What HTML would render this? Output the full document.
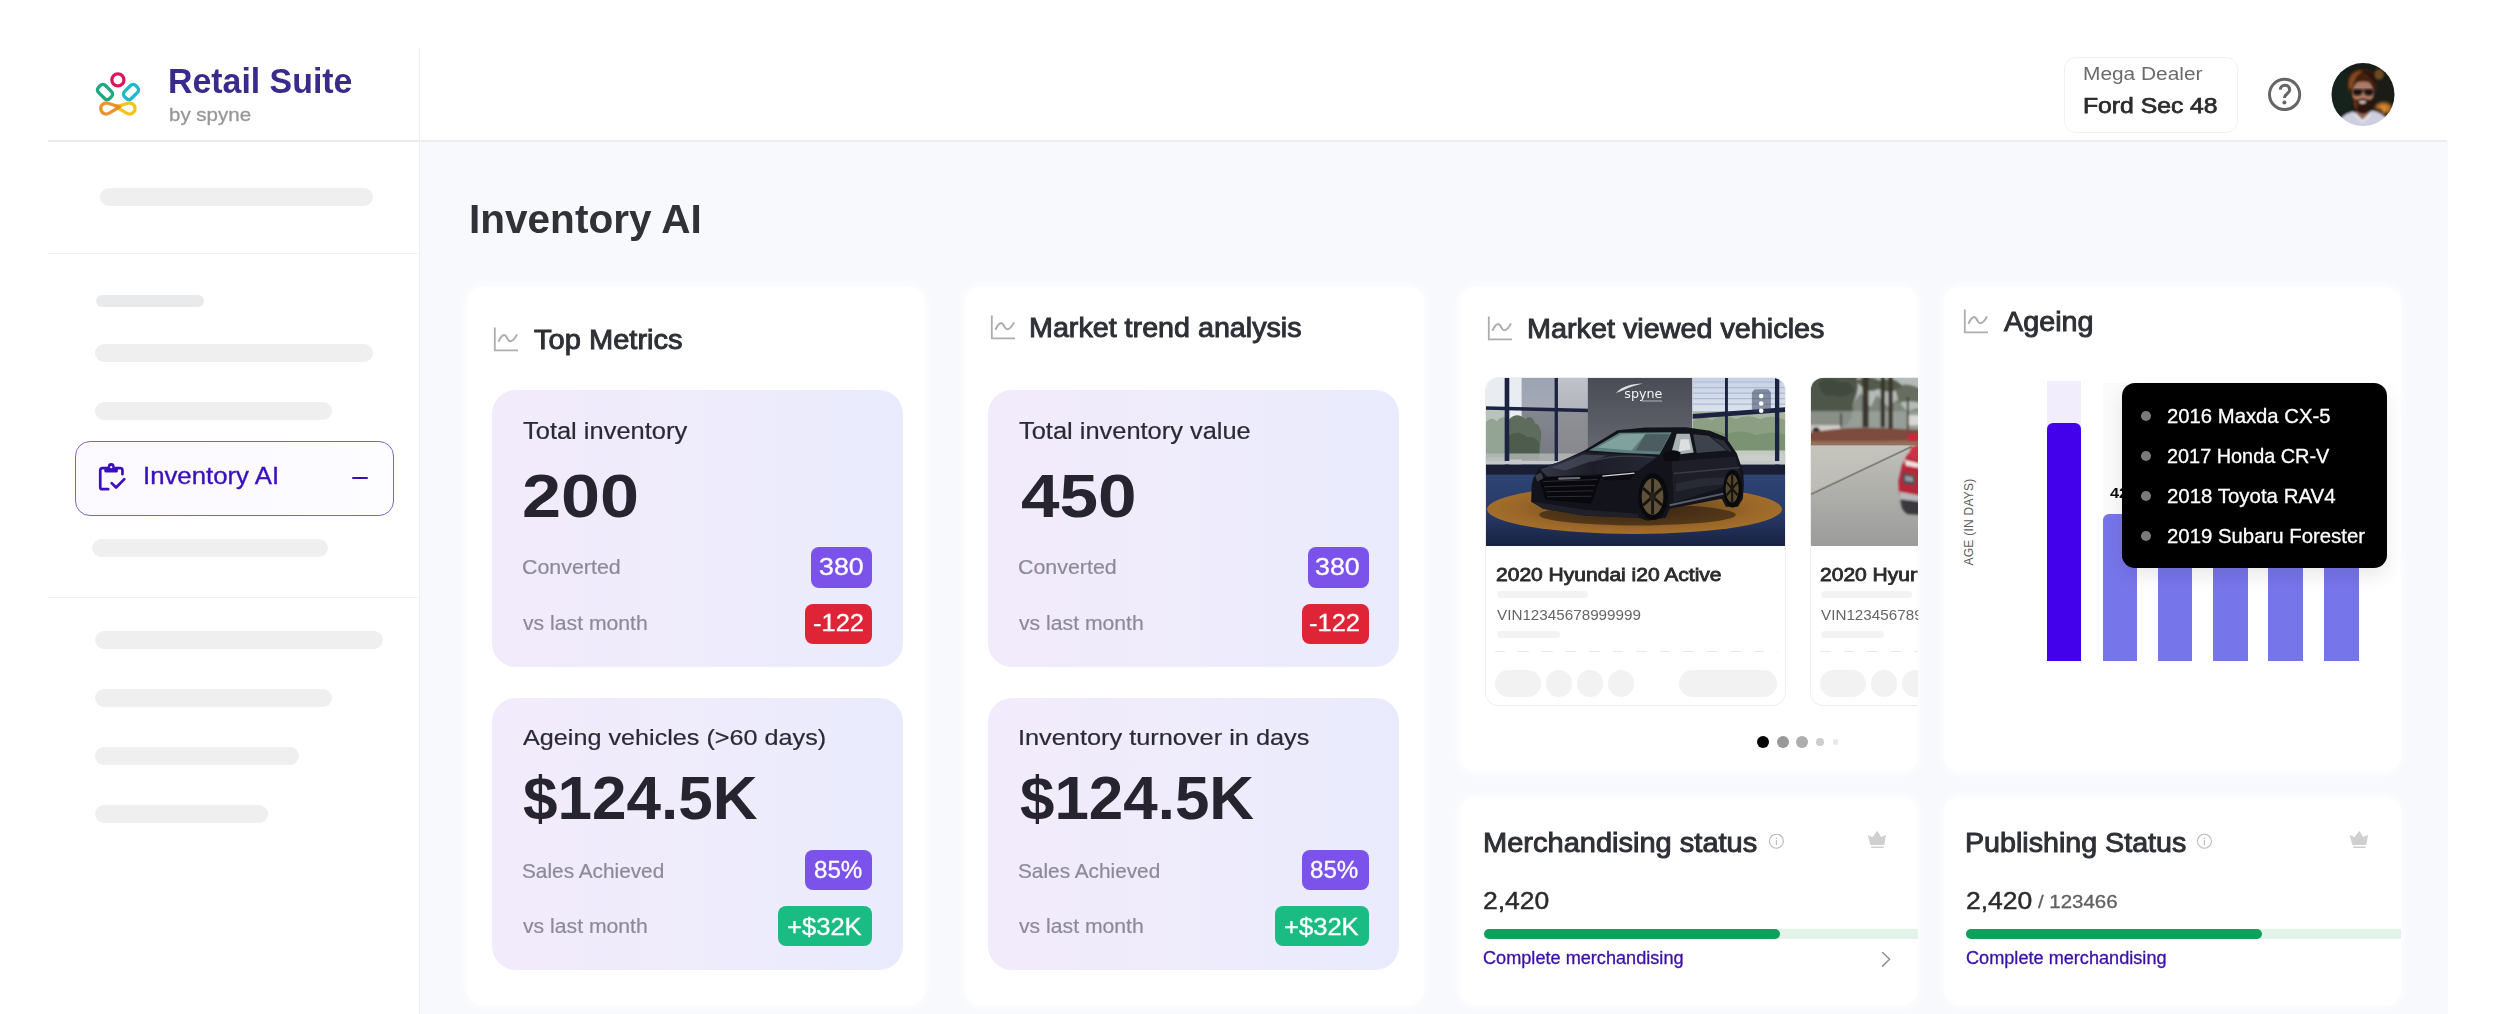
<!DOCTYPE html>
<html lang="en">
<head>
<meta charset="utf-8">
<title>Retail Suite by spyne - Inventory AI</title>
<style>
*{box-sizing:border-box;margin:0;padding:0}
html,body{width:2496px;height:1014px;overflow:hidden;background:#fff;font-family:"Liberation Sans",sans-serif}
#page{position:relative;width:2496px;height:1014px;overflow:hidden;background:#fff}
.a{position:absolute}
.t{position:absolute;white-space:nowrap;line-height:1;transform-origin:0 0}
.sk{position:absolute;background:#efefef;border-radius:10px}
.card{position:absolute;background:#fff;border-radius:16px;box-shadow:0 0 8px 2px rgba(255,255,255,.85)}
.box{position:absolute;border-radius:24px;background:linear-gradient(90deg,#f2ebfc 0%,#efecfc 50%,#e9ebfd 100%)}
.bdg{position:absolute;border-radius:8px;color:#fff;display:flex;align-items:center;justify-content:center;font-size:23.4px;letter-spacing:.7px;line-height:1}
.pu{background:#7b52ea}.rd{background:#e02438}.gn{background:#1abc84}
</style>
</head>
<body>
<div id="page">
  <!-- main background -->
  <div class="a" id="mainbg" style="left:419px;top:141px;width:2029px;height:873px;background:#f8f9fc"></div>
  <!-- frame lines -->
  <div class="a" style="left:48px;top:140px;width:2399px;height:1.5px;background:#ececec"></div>
  <div class="a" style="left:418.6px;top:48px;width:1.4px;height:966px;background:#efeff1"></div>
  <div class="a" style="left:48px;top:253px;width:370px;height:1px;background:#f0f0f0"></div>
  <div class="a" style="left:48px;top:597px;width:370px;height:1px;background:#f0f0f0"></div>

  <!-- logo -->
  <svg class="a" style="left:90px;top:66px" width="56" height="56" viewBox="0 0 56 56" fill="none" stroke-width="3.3" stroke-linejoin="round">
    <path d="M26.2 41.3 L37.9 37.74 A5.5 5.5 0 1 1 36.63 47.69 Z" stroke="#f1c51e" transform="translate(0 -0.5)"/>
    <path d="M29.6 41.3 L17.9 37.74 A5.5 5.5 0 1 0 19.17 47.69 Z" stroke="#eb8a1e" opacity=".93" transform="translate(0 -0.5)"/>
    <rect x="-7.9" y="-4.9" width="15.8" height="9.8" rx="3.6" transform="translate(15 26) rotate(45)" stroke="#20a77c"/>
    <rect x="-7.9" y="-4.9" width="15.8" height="9.8" rx="3.6" transform="translate(41 26) rotate(-45)" stroke="#1fb6cf"/>
    <circle cx="27.9" cy="13.9" r="6.05" stroke="#d81858"/>
  </svg>

  <!-- sidebar skeletons -->
  <div class="sk" style="left:100px;top:188px;width:273px;height:18px"></div>
  <div class="sk" style="left:96px;top:295px;width:108px;height:12px;background:#e8eaec"></div>
  <div class="sk" style="left:95px;top:344px;width:278px;height:18px"></div>
  <div class="sk" style="left:95px;top:402px;width:237px;height:18px"></div>
  <div class="sk" style="left:92px;top:539px;width:236px;height:18px"></div>
  <div class="sk" style="left:95px;top:631px;width:288px;height:18px"></div>
  <div class="sk" style="left:95px;top:689px;width:237px;height:18px"></div>
  <div class="sk" style="left:95px;top:747px;width:204px;height:18px"></div>
  <div class="sk" style="left:95px;top:805px;width:173px;height:18px"></div>

  <!-- active nav item -->
  <div class="a" style="left:75px;top:440.5px;width:318.5px;height:75.5px;border:1.6px solid #7a66c8;border-radius:15px;background:linear-gradient(90deg,#fbf9ff,#fdfcff)"></div>
  <svg class="a" style="left:97px;top:461px" width="30" height="32" viewBox="0 0 30 32" fill="none" stroke="#3a10be" stroke-width="2.7" stroke-linecap="round" stroke-linejoin="round">
    <path d="M8.5 7.15 H5.25 A2 2 0 0 0 3.25 9.15 V26.15 A2 2 0 0 0 5.25 28.15 H11.2"/>
    <path d="M20 7.15 H23.45 A2 2 0 0 1 25.45 9.15 V13.2"/>
    <rect x="7.3" y="5.8" width="13.6" height="5.8" rx="1.6" fill="#3a10be" stroke="none"/>
    <circle cx="14.2" cy="5.4" r="3.4" fill="#3a10be" stroke="none"/>
    <circle cx="14.2" cy="6.2" r="1.15" fill="#fbf9ff" stroke="none"/>
    <path d="M14.7 22.1 L19.1 26.5 L27.3 18.1"/>
  </svg>
  <div class="a" style="left:352px;top:477px;width:16px;height:2.4px;background:#3a10be;border-radius:1px"></div>

  <!-- header right -->
  <div class="a" style="left:2064px;top:56.5px;width:173.5px;height:76px;border:1.5px solid #f1f1f1;border-radius:12px;background:#fff"></div>
  <svg class="a" style="left:2265px;top:75px" width="40" height="40" viewBox="0 0 40 40" fill="none" stroke="#666" stroke-width="3">
    <circle cx="19.6" cy="19.4" r="15.1"/>
    <path d="M15.3 14.6 C15.4 11.8 17.5 10.2 19.9 10.2 C22.6 10.2 24.7 12.1 24.7 14.7 C24.7 18.6 19.5 18.9 19.4 23" stroke-width="3.1"/>
    <circle cx="19.4" cy="27.6" r="2" fill="#666" stroke="none"/>
  </svg>
    <svg class="a" style="left:2331px;top:62.7px" width="64" height="64" viewBox="0 0 64 64">
    <defs><clipPath id="avc"><circle cx="32" cy="31.6" r="31.5"/></clipPath>
      <filter id="avb" x="-10%" y="-10%" width="120%" height="120%"><feGaussianBlur stdDeviation="0.9"/></filter>
      <radialGradient id="glow" cx=".5" cy=".5" r=".5"><stop offset="0" stop-color="#e9983a"/><stop offset=".55" stop-color="#c07426" stop-opacity=".9"/><stop offset="1" stop-color="#3a2a18" stop-opacity="0"/></radialGradient></defs>
    <g clip-path="url(#avc)">
      <g filter="url(#avb)">
      <rect x="-4" y="-4" width="72" height="72" fill="#151a18"/>
      <ellipse cx="10" cy="30" rx="13" ry="22" fill="#18241f"/>
      <ellipse cx="52" cy="26" rx="12" ry="16" fill="#1a1b19"/>
      <ellipse cx="48" cy="11.5" rx="4.5" ry="5" fill="#7d5424" opacity=".85"/>
      <ellipse cx="52.5" cy="45" rx="11.5" ry="8" fill="url(#glow)"/>
      <ellipse cx="47" cy="48" rx="5" ry="3" fill="#2a1c12" opacity=".6"/>
      <path d="M4 66 Q8 52 22 48.5 L31.5 56.5 L41 47.5 Q52 50 58 58 L62 66Z" fill="#cdcede"/>
      <path d="M24 49 L31.5 57 L39 48.5 L40 52 L31.5 60 L23 52Z" fill="#e4e4ee"/>
      <path d="M26 44 L38 44 L38.5 50 L31.5 56.5 L25 50Z" fill="#9a6655"/>
      <ellipse cx="32" cy="30" rx="10.3" ry="13" fill="#ad7a66"/>
      <path d="M22 25 Q21.7 35 24 39 L26 33 Z" fill="#c27048" opacity=".7"/>
      <path d="M17 27 Q14.5 14 22 8.5 Q31 3.5 40 8 Q47 12 45.5 27 Q44.5 31 43 31 Q43.5 23 39 19.5 Q31 17.5 25 20 Q21.5 23 21.5 30 Q18.5 30 17 27Z" fill="#43200f"/>
      <path d="M18 25 Q16.5 15 23 10 Q28 7 32 8 Q26.5 11 24.5 15.5 Q22 19.5 21.3 26Z" fill="#854824"/>
      <path d="M30 8 Q38 6.5 43 12 Q46 17 45 25 Q42 15 36 12Z" fill="#2c150c"/>
      <path d="M22 34 Q21.5 44 26.5 49 Q32 53 37.5 49 Q42.5 44 42 33.5 Q40.5 37.5 37 36.5 Q32 34.5 27 36.5 Q23.5 37.5 22 34Z" fill="#2a160e"/>
      <path d="M22.5 36 Q22.5 43 25.5 47 L27 40Z" fill="#7a3a1c" opacity=".8"/>
      <path d="M27.6 38.2 Q31.5 37.4 35.4 38.2 Q34.2 40.8 31.5 40.8 Q28.8 40.8 27.6 38.2Z" fill="#d9c6be"/>
      </g>
      <g filter="url(#avb)" opacity=".95">
      <ellipse cx="26.5" cy="29.2" rx="4.6" ry="3.3" fill="#17100e"/>
      <ellipse cx="37.8" cy="29.2" rx="4.6" ry="3.3" fill="#17100e"/>
      <rect x="22" y="26.5" width="20.5" height="1.6" fill="#17100e"/>
      </g>
    </g>
  </svg>


  <!-- cards -->
  <div class="card" style="left:467px;top:287px;width:458px;height:718px"></div>
  <div class="card" style="left:965px;top:287px;width:459px;height:718px"></div>
  <div class="card" id="cv" style="left:1460px;top:287px;width:458px;height:485px"></div>
  <div class="card" style="left:1944px;top:287px;width:457px;height:485px"></div>
  <div class="card" style="left:1460px;top:797px;width:458px;height:208px"></div>
  <div class="card" style="left:1944px;top:797px;width:457px;height:208px"></div>

  <!-- chart icons -->
  <svg class="a ci" style="left:493px;top:326.5px" width="26" height="26" viewBox="0 0 26 26" fill="none" stroke="#adadad" stroke-width="1.8" stroke-linejoin="miter"><path d="M1.8 0.6 V23.4 H25"/><path d="M5.4 14.8 C7.3 10.8 9.3 8.1 11.2 8.1 C14 8.1 14.4 14.3 17.1 14.3 C20 14.3 22.4 10.6 24 7.4" stroke-width="2"/></svg>
  <svg class="a ci" style="left:990px;top:315px" width="26" height="26" viewBox="0 0 26 26" fill="none" stroke="#adadad" stroke-width="1.8" stroke-linejoin="miter"><path d="M1.8 0.6 V23.4 H25"/><path d="M5.4 14.8 C7.3 10.8 9.3 8.1 11.2 8.1 C14 8.1 14.4 14.3 17.1 14.3 C20 14.3 22.4 10.6 24 7.4" stroke-width="2"/></svg>
  <svg class="a ci" style="left:1487px;top:315.5px" width="26" height="26" viewBox="0 0 26 26" fill="none" stroke="#adadad" stroke-width="1.8" stroke-linejoin="miter"><path d="M1.8 0.6 V23.4 H25"/><path d="M5.4 14.8 C7.3 10.8 9.3 8.1 11.2 8.1 C14 8.1 14.4 14.3 17.1 14.3 C20 14.3 22.4 10.6 24 7.4" stroke-width="2"/></svg>
  <svg class="a ci" style="left:1962.5px;top:309px" width="26" height="26" viewBox="0 0 26 26" fill="none" stroke="#adadad" stroke-width="1.8" stroke-linejoin="miter"><path d="M1.8 0.6 V23.4 H25"/><path d="M5.4 14.8 C7.3 10.8 9.3 8.1 11.2 8.1 C14 8.1 14.4 14.3 17.1 14.3 C20 14.3 22.4 10.6 24 7.4" stroke-width="2"/></svg>

  <!-- metric boxes -->
  <div class="box" style="left:492px;top:390px;width:410.5px;height:277px"></div>
  <div class="box" style="left:492px;top:698px;width:410.5px;height:272px"></div>
  <div class="box" style="left:988px;top:390px;width:411px;height:277px"></div>
  <div class="box" style="left:988px;top:698px;width:411px;height:272px"></div>

  <!-- badges -->
  <div class="bdg pu" style="left:811px;top:547px;width:60.5px;height:40.5px"></div>
  <div class="bdg rd" style="left:805px;top:603.5px;width:66.5px;height:40.5px"></div>
  <div class="bdg pu" style="left:805px;top:850px;width:66.5px;height:40px"></div>
  <div class="bdg gn" style="left:778px;top:906px;width:93.5px;height:40px"></div>
  <div class="bdg pu" style="left:1307.5px;top:547px;width:61px;height:40.5px"></div>
  <div class="bdg rd" style="left:1301.5px;top:603.5px;width:67px;height:40.5px"></div>
  <div class="bdg pu" style="left:1301.5px;top:850px;width:67px;height:40px"></div>
  <div class="bdg gn" style="left:1274.5px;top:906px;width:94px;height:40px"></div>

    <!-- market viewed vehicles -->
  <div class="a" style="left:1460px;top:287px;width:458px;height:485px;overflow:hidden;border-radius:16px">
    <!-- vehicle card 1 -->
    <div class="a" style="left:25px;top:90px;width:300.5px;height:328.5px;border:1.3px solid #ededed;border-radius:13px;overflow:hidden;background:#fff">
      <svg class="a" style="left:-1px;top:-1px" width="301" height="169" viewBox="0 0 300 168" preserveAspectRatio="none">
        <defs>
          <linearGradient id="wall" x1="0" y1="0" x2="0" y2="1"><stop offset="0" stop-color="#494c54"/><stop offset=".5" stop-color="#5a5d65"/><stop offset="1" stop-color="#6e7179"/></linearGradient>
          <linearGradient id="flr" x1="0" y1="0" x2="0" y2="1"><stop offset="0" stop-color="#2e4474"/><stop offset=".55" stop-color="#283a68"/><stop offset="1" stop-color="#182242"/></linearGradient>
          <radialGradient id="tt" cx=".5" cy=".48" r=".5"><stop offset="0" stop-color="#55391c"/><stop offset=".5" stop-color="#7f5524"/><stop offset=".8" stop-color="#9a6729"/><stop offset="1" stop-color="#a36e2b"/></radialGradient>
          <linearGradient id="bld" x1="0" y1="0" x2="0" y2="1"><stop offset="0" stop-color="#9aa2b3"/><stop offset=".35" stop-color="#a4a9b4"/><stop offset=".4" stop-color="#83878f"/><stop offset="1" stop-color="#74777f"/></linearGradient>
          <linearGradient id="bld2" x1="0" y1="0" x2="0" y2="1"><stop offset="0" stop-color="#c2c5cc"/><stop offset=".36" stop-color="#b2b5bc"/><stop offset=".4" stop-color="#8e9096"/><stop offset="1" stop-color="#85878d"/></linearGradient>
          <linearGradient id="rb" x1="0" y1="0" x2="0" y2="1"><stop offset="0" stop-color="#c5d0e4"/><stop offset="1" stop-color="#dde4ef"/></linearGradient>
          <linearGradient id="hood" x1="0" y1="0" x2="1" y2="0"><stop offset="0" stop-color="#343746"/><stop offset=".45" stop-color="#1c1d28"/><stop offset="1" stop-color="#262835"/></linearGradient>
          <filter id="sft" x="-5%" y="-5%" width="110%" height="110%"><feGaussianBlur stdDeviation="0.7"/></filter>
        </defs>
        <rect width="300" height="168" fill="#e9ecf1"/>
        <!-- left window -->
        <g filter="url(#sft)">
        <rect x="0" y="30" width="24" height="56" fill="#b9c2bd"/>
        <rect x="36.5" y="-2" width="35" height="90" fill="url(#bld)"/>
        <rect x="72" y="-2" width="32" height="90" fill="url(#bld2)"/>
        <path d="M0 46 Q6 38 12 44 Q18 36 24 44 L24 80 L0 80Z" fill="#8fa08f" opacity=".9"/>
        <path d="M24 42 Q32 34 40 42 Q46 36 50 46 Q56 48 56 58 L54 80 L24 80Z" fill="#5d6c5c"/>
        <path d="M24 58 Q34 52 42 60 Q50 58 54 66 L54 82 L24 82Z" fill="#4d5c4e"/>
        <rect x="0" y="76" width="103" height="9" fill="#b9bdb9" opacity=".75"/>
        <!-- right window -->
        <rect x="207" y="-2" width="95" height="40" fill="url(#rb)"/>
        <g stroke="#a9b7d0" stroke-width="1.1" opacity=".9"><path d="M207 5H300M207 10.5H300M207 16H300M207 21.5H300M207 27H300"/></g>
        <rect x="207" y="34" width="95" height="52" fill="#a9b5a3"/>
        <path d="M207 44 Q216 37 226 43 Q238 35 250 42 Q262 36 274 42 Q286 36 302 44 L302 76 L207 76Z" fill="#8c9f82"/>
        <path d="M212 56 Q226 50 240 57 Q256 51 270 58 Q284 53 302 58 L302 78 L212 78Z" fill="#77906f" opacity=".8"/>
        <rect x="207" y="73" width="95" height="12" fill="#cfd3cf" opacity=".85"/>
        </g>
        <!-- frames -->
        <g fill="#1b2340">
          <rect x="19.6" y="0" width="4.6" height="88"/><rect x="69.4" y="0" width="3.3" height="88"/>
          <path d="M0 29 L103 31.6 L103 35 L0 32.5Z"/>
          <rect x="239.2" y="0" width="2.9" height="88"/><rect x="289" y="0" width="4.3" height="88"/>
          <path d="M207 36.8 L300 30 L300 34.6 L207 41.5Z"/>
        </g>
        <rect x="0" y="83.5" width="300" height="3.6" fill="#c4c8cc"/>
        <rect x="0" y="87" width="300" height="11" fill="#191e33"/>
        <!-- wall -->
        <rect x="102.5" y="0" width="104" height="93" fill="url(#wall)"/>
        <!-- floor -->
        <rect x="0" y="97" width="300" height="71" fill="url(#flr)"/>
        <ellipse cx="149" cy="131.5" rx="147" ry="24.5" fill="url(#tt)"/>
        <ellipse cx="152" cy="137" rx="98" ry="10.5" fill="#20160e" opacity=".55" filter="url(#sft)"/>
        <!-- car -->
        <path d="M46 124 L46.5 108 L48 101 L54 91 L75 84 L99 73 L132 53 L160 50.3 L200 50 L224 53.5 L240 60 L251 76 L257.5 95 L258 108 L257 121 L252 129 L240 129 L236 121 L184 131 L180 140 L162 143 L153 140 L100 138 L58 131 Z" fill="#13141b"/>
        <path d="M103.5 73 L134 55.5 L186 55 L174 77 Q140 76 103.5 73Z" fill="#5f7f7e"/>
        <path d="M112 70 L136 57 L160 56.5 L146 73Z" fill="#86a8a4" opacity=".85"/>
        <path d="M160 57 L184 57 L175 74 L150 73Z" fill="#4a5a5e" opacity=".9"/>
        <path d="M191 56.5 L204 56.5 L208 75 L185 78 Z" fill="#a9b2b3"/>
        <path d="M195 62 L203 62 L205 72 L193 74Z" fill="#e8eaea" opacity=".8"/>
        <path d="M207.5 57 L223 58.5 L241 73 L211 75.5Z" fill="#3d424c"/>
        <path d="M226 60 L238 63 L246 74 L243 74Z" fill="#2b2f38"/>
        <path d="M55 92 L99 74.5 L172 79 L150 95 L62 99Z" fill="url(#hood)"/>
        <path d="M66 90 L98 77 L122 78 L80 93Z" fill="#4a4d5e" opacity=".7"/>
        <path d="M106 84 Q130 76 168 80" stroke="#3c3f4e" stroke-width="1.2" fill="none"/>
        <path d="M54 100 L116 98 L106 126 L60 122Z" fill="#09090d"/>
        <path d="M58 104 L112 102 M59 109 L110 107.5 M61 114 L108 113 M62 119 L106 118.5" stroke="#2c2d35" stroke-width="1"/>
        <path d="M74 101 L94 100.4" stroke="#6a6c76" stroke-width="2.2" stroke-linecap="round"/>
        <path d="M50 98 L56 95 L58 101 L52 104Z" fill="#3a3c48"/>
        <path d="M113 97.5 L152 93.5 L145 102 L120 103Z" fill="#0b0b0f"/>
        <path d="M117 98.5 L149 95.5" stroke="#cfd6de" stroke-width="1.3"/>
        <path d="M48 124 L100 132 L153 136 L153 140 L100 138 L58 131Z" fill="#1f2029"/>
        <path d="M186 84 L250 79 L256 104 L188 125Z" fill="#1d1e27"/>
        <path d="M188 96 L254 90" stroke="#393b48" stroke-width="1.4"/>
        <path d="M190 106 Q220 98 254 100 L255 106 Q222 106 190 114Z" fill="#2c2e3a" opacity=".8"/>
        <path d="M184 127.5 L238 116" stroke="#5a5d6b" stroke-width="1.8"/>
        <ellipse cx="167.5" cy="119" rx="14.8" ry="23.2" fill="#0a0a0d"/>
        <ellipse cx="167" cy="119" rx="10.8" ry="18" fill="#5f5139"/>
        <path d="M167 101.5 L167 136.5 M157.5 110.5 L176.5 127.5 M157.5 127.5 L176.5 110.5" stroke="#17140f" stroke-width="2.8"/>
        <ellipse cx="167" cy="119" rx="3.2" ry="5" fill="#262017"/>
        <ellipse cx="246.8" cy="111" rx="9.3" ry="18.8" fill="#0a0a0d"/>
        <ellipse cx="246.3" cy="111" rx="6.5" ry="14" fill="#55482f"/>
        <path d="M246.3 97.5 L246.3 124.5 M240.8 104.5 L251.8 117.5 M240.8 117.5 L251.8 104.5" stroke="#17140f" stroke-width="2.1"/>
        <path d="M177 77 Q186 70 195 75 L193 83 L179 84Z" fill="#0b0b10"/>
        <!-- watermark -->
        <path d="M130.5 16 Q138 7 157.5 6.5 Q145 9.5 139.5 12.5 Q134.5 14.5 130.5 16Z" fill="#eeeef2" opacity=".9"/>
        <text x="138.8" y="21.3" font-family="'DejaVu Sans','Liberation Sans',sans-serif" font-size="11.5" fill="#f4f4f6" textLength="38" lengthAdjust="spacingAndGlyphs">spyne</text>
        <rect x="156" y="23.4" width="20.5" height=".9" fill="#d8d8dc" opacity=".8"/>
        <!-- menu -->
        <rect x="266" y="12.3" width="19" height="23" rx="4.5" fill="#323c58" opacity=".5"/>
        <circle cx="275.3" cy="19" r="2.3" fill="#fff"/><circle cx="275.3" cy="26.3" r="2.3" fill="#fff"/><circle cx="275.3" cy="33.5" r="2.3" fill="#fff"/>
      </svg>
      <div class="sk" style="left:10.5px;top:213px;width:91px;height:7px;background:#f3f3f3"></div>
      <div class="sk" style="left:10.5px;top:253px;width:63px;height:6.5px;background:#f3f3f3"></div>
      <div class="a" style="left:9px;top:272.5px;width:283px;height:1.5px;background:repeating-linear-gradient(90deg,#e9e9e9 0 10.5px,transparent 10.5px 23.5px)"></div>
      <div class="sk" style="left:9px;top:292px;width:46px;height:26.5px;border-radius:14px;background:#f2f2f2"></div>
      <div class="sk" style="left:60px;top:292px;width:26px;height:26.5px;border-radius:14px;background:#f2f2f2"></div>
      <div class="sk" style="left:91px;top:292px;width:26px;height:26.5px;border-radius:14px;background:#f2f2f2"></div>
      <div class="sk" style="left:122px;top:292px;width:26px;height:26.5px;border-radius:14px;background:#f2f2f2"></div>
      <div class="sk" style="left:192.5px;top:292px;width:98px;height:26.5px;border-radius:14px;background:#f2f2f2"></div>
    </div>
    <!-- vehicle card 2 (clipped) -->
    <div class="a" style="left:349.5px;top:90px;width:300.5px;height:328.5px;border:1.3px solid #ededed;border-radius:13px;overflow:hidden;background:#fff">
      <svg class="a" style="left:-1px;top:-1px" width="109" height="169" viewBox="0 0 108 168" preserveAspectRatio="none">
        <defs>
          <linearGradient id="pv" x1="0" y1="0" x2="0" y2="1"><stop offset="0" stop-color="#c2c1ba"/><stop offset=".35" stop-color="#b3b3ae"/><stop offset="1" stop-color="#9b9c9b"/></linearGradient>
          <filter id="sf2" x="-5%" y="-5%" width="110%" height="110%"><feGaussianBlur stdDeviation="0.8"/></filter>
        </defs>
        <rect width="108" height="168" fill="#8a9088"/>
        <g filter="url(#sf2)">
        <rect x="-2" y="-2" width="112" height="54" fill="#7d857c"/>
        <path d="M40 -2 L110 -2 L110 30 L96 34 L86 22 L78 30 L66 18 L60 30 L50 16 L44 24Z" fill="#c3c8c7" opacity=".8"/>
        <path d="M-2 -2 L46 -2 Q50 14 42 26 Q44 40 36 48 L-2 50Z" fill="#4d5648"/>
        <path d="M8 6 Q18 -2 30 6 Q40 2 44 14 Q34 22 22 18 Q12 22 8 6Z" fill="#3f483c" opacity=".9"/>
        <path d="M46 4 Q56 -4 70 4 Q84 -2 92 10 Q80 18 68 12 Q56 18 46 4Z" fill="#4a5244" opacity=".9"/>
        <path d="M84 10 Q96 4 110 12 L110 26 Q98 22 88 26Z" fill="#59604f" opacity=".85"/>
        <rect x="-2" y="34" width="112" height="18" fill="#a3a8a2" opacity=".7"/>
        <rect x="96" y="38" width="14" height="10" fill="#dcdedc" opacity=".9"/>
        <g fill="#3a342c"><rect x="52" y="-2" width="6" height="52"/><rect x="70" y="-2" width="4.3" height="52"/><rect x="77.7" y="-2" width="4.3" height="54"/><rect x="96" y="20" width="1.8" height="34"/><rect x="30" y="36" width="1.6" height="14"/></g>
        <rect x="-2" y="48" width="32" height="6" fill="#d2cec9"/>
        <path d="M2 54 Q3 49 7 50 Q10 51 10 55Z" fill="#2c2420"/>
        <path d="M-2 56 Q20 51 50 50.5 Q80 50 110 53 L110 70 L-2 70Z" fill="#7b4b3d"/>
        <path d="M-2 63.5 Q50 64.5 96 63 L110 62 L110 69 L-2 69Z" fill="#98735f" opacity=".9"/>
        </g>
        <rect x="0" y="68" width="108" height="100" fill="url(#pv)"/>
        <path d="M0 68 L100 68 L0 115Z" fill="#c6c4bd" opacity=".55"/>
        <path d="M100 68.5 L0 116.3 L0 118 L102 69.5Z" fill="#6f6e69" opacity=".8"/>
        <g filter="url(#sf2)">
        <path d="M96.5 57.5 Q101 55.5 107.5 56.5 L108.5 63 Q102 64.5 97 63Z" fill="#d0283c"/>
        <path d="M110 66 L103 70 L96 78 L91 88 L87.5 104 L88.5 118 L110 122Z" fill="#b8283a"/>
        <path d="M100 70 L110 66 L110 84 L98 80Z" fill="#cf3346"/>
        <path d="M94 82.5 L108.5 86 L108.5 90.5 L95 88Z" fill="#f1e3df"/>
        <path d="M91.5 95 L104 97.5 L104 107.5 L92 106Z" fill="#4b4a50"/>
        <path d="M94 98 L102 99.5 L102 104.5 L94.5 103.5Z" fill="#9a989e"/>
        <path d="M88.5 114 L110 118 L110 124 L89.5 121.5Z" fill="#b9b7bb"/>
        <path d="M89.5 121.5 L110 124 L110 137 L97 136.5 Q92 134 90.5 128Z" fill="#3a383c"/>
        </g>
      </svg>
      <div class="sk" style="left:10.5px;top:213px;width:91px;height:7px;background:#f3f3f3"></div>
      <div class="sk" style="left:10.5px;top:253px;width:63px;height:6.5px;background:#f3f3f3"></div>
      <div class="a" style="left:9px;top:272.5px;width:283px;height:1.5px;background:repeating-linear-gradient(90deg,#e9e9e9 0 10.5px,transparent 10.5px 23.5px)"></div>
      <div class="sk" style="left:9px;top:292px;width:46px;height:26.5px;border-radius:14px;background:#f2f2f2"></div>
      <div class="sk" style="left:60px;top:292px;width:26px;height:26.5px;border-radius:14px;background:#f2f2f2"></div>
      <div class="sk" style="left:91px;top:292px;width:26px;height:26.5px;border-radius:14px;background:#f2f2f2"></div>
    </div>
    <!-- pager dots -->
    <div class="a" style="left:296.9px;top:448.9px;width:12px;height:12px;border-radius:50%;background:#000"></div>
    <div class="a" style="left:316.5px;top:448.9px;width:12px;height:12px;border-radius:50%;background:#999"></div>
    <div class="a" style="left:335.9px;top:448.9px;width:12px;height:12px;border-radius:50%;background:#adadad"></div>
    <div class="a" style="left:355.6px;top:450.6px;width:8.6px;height:8.6px;border-radius:50%;background:#cdcdcd"></div>
    <div class="a" style="left:372.5px;top:452.1px;width:5.6px;height:5.6px;border-radius:50%;background:#e8e8e8"></div>
  </div>

    <!-- ageing chart -->
  <div class="a" style="left:2046.8px;top:380.5px;width:34.5px;height:280.5px;background:#f2edfd"></div>
  <div class="a" style="left:2046.8px;top:423.4px;width:34.5px;height:237.6px;background:#4200eb;border-radius:6px 6px 0 0"></div>
  <div class="a" style="left:2102.6px;top:383px;width:34.4px;height:278px;background:#fbfbfb"></div>
  <div class="a bar" style="left:2102.6px;top:514px;width:34.4px;height:146.8px;background:#7775ea;border-radius:6px 6px 0 0"></div>
  <div class="a bar" style="left:2157.8px;top:500px;width:34.4px;height:161px;background:#7775ea;border-radius:6px 6px 0 0"></div>
  <div class="a bar" style="left:2213.3px;top:500px;width:34.4px;height:160.6px;background:#7775ea;border-radius:6px 6px 0 0"></div>
  <div class="a bar" style="left:2268.4px;top:500px;width:34.4px;height:161px;background:#7775ea;border-radius:6px 6px 0 0"></div>
  <div class="a bar" style="left:2324.2px;top:500px;width:34.6px;height:161.2px;background:#7775ea;border-radius:6px 6px 0 0"></div>
  <div class="a" style="left:1919px;top:514px;width:100px;height:16px;transform:rotate(-90deg);transform-origin:50% 50%;text-align:center;font-size:12px;line-height:16px;color:#5c5c5c;letter-spacing:.25px;white-space:nowrap">AGE (IN DAYS)</div>
  <!-- tooltip -->
  <div class="a" style="left:2122px;top:383.3px;width:265.3px;height:185.2px;background:#000;border-radius:13px;box-shadow:0 8px 20px rgba(0,0,0,.09);z-index:5"></div>
  <div class="a" style="left:2141px;top:411.3px;width:10px;height:10px;border-radius:50%;background:#7a7a7a;z-index:6"></div>
  <div class="a" style="left:2141px;top:451.1px;width:10px;height:10px;border-radius:50%;background:#7a7a7a;z-index:6"></div>
  <div class="a" style="left:2141px;top:490.9px;width:10px;height:10px;border-radius:50%;background:#7a7a7a;z-index:6"></div>
  <div class="a" style="left:2141px;top:530.7px;width:10px;height:10px;border-radius:50%;background:#7a7a7a;z-index:6"></div>

    <!-- merchandising / publishing -->
  <div class="a" style="left:1460px;top:797px;width:458px;height:208px;overflow:hidden;border-radius:16px">
    <div class="a" style="left:23.6px;top:132px;width:440px;height:10px;border-radius:5px;background:#e2f3ea"></div>
    <div class="a" style="left:23.6px;top:132px;width:296.2px;height:10px;border-radius:5px;background:#10a05c"></div>
  </div>
  <div class="a" style="left:1944px;top:797px;width:457px;height:208px;overflow:hidden;border-radius:16px">
    <div class="a" style="left:21.9px;top:132px;width:440px;height:10px;border-radius:5px;background:#e2f3ea"></div>
    <div class="a" style="left:21.9px;top:132px;width:296.2px;height:10px;border-radius:5px;background:#10a05c"></div>
  </div>
  <svg class="a" style="left:1767.8px;top:833.3px" width="17" height="17" viewBox="0 0 17 17" fill="none" stroke="#b9b9b9" stroke-width="1.1" stroke-linecap="round"><circle cx="8.4" cy="8.2" r="7"/><path d="M8.4 7.6V11.6"/><circle cx="8.4" cy="5.2" r=".8" fill="#b9b9b9" stroke="none"/></svg>
  <svg class="a" style="left:2196.1px;top:833.3px" width="17" height="17" viewBox="0 0 17 17" fill="none" stroke="#b9b9b9" stroke-width="1.1" stroke-linecap="round"><circle cx="8.4" cy="8.2" r="7"/><path d="M8.4 7.6V11.6"/><circle cx="8.4" cy="5.2" r=".8" fill="#b9b9b9" stroke="none"/></svg>
  <svg class="a" style="left:1866.5px;top:829.5px" width="21" height="19" viewBox="0 0 21 19" fill="#cfcfcf"><path d="M3.75 14.5 L1.5 5.6 L5.4 7.9 L10.26 1.6 L14 7.8 L18.4 5.6 L16.8 14.5Z" stroke="#cfcfcf" stroke-width="1" stroke-linejoin="round"/><rect x="4.1" y="16.4" width="12.7" height="1.5" rx=".5"/></svg>
  <svg class="a" style="left:2348.8px;top:829.5px" width="21" height="19" viewBox="0 0 21 19" fill="#cfcfcf"><path d="M3.75 14.5 L1.5 5.6 L5.4 7.9 L10.26 1.6 L14 7.8 L18.4 5.6 L16.8 14.5Z" stroke="#cfcfcf" stroke-width="1" stroke-linejoin="round"/><rect x="4.1" y="16.4" width="12.7" height="1.5" rx=".5"/></svg>
  <svg class="a" style="left:1879px;top:950px" width="14" height="19" viewBox="0 0 14 19" fill="none" stroke="#8f8f8f" stroke-width="1.5" stroke-linecap="round" stroke-linejoin="round"><path d="M3.5 2.5 L10.6 9.3 L3.5 16.1"/></svg>


<span class="t" id="t_rs" style="left:167.5px;top:63.9px;font-size:34.45px;font-weight:700;color:#3a2a8c;transform:scaleX(0.9832);">Retail Suite</span>
<span class="t" id="t_by" style="left:169.4px;top:106.4px;font-size:18.31px;font-weight:400;color:#979797;transform:scaleX(1.1208);-webkit-text-stroke:0.3px #979797;">by spyne</span>
<span class="t" id="t_md" style="left:2082.7px;top:64.7px;font-size:18.90px;font-weight:400;color:#6b6b6b;transform:scaleX(1.1049);">Mega Dealer</span>
<span class="t" id="t_fs" style="left:2082.9px;top:95.1px;font-size:22.38px;font-weight:400;color:#2b2b2b;transform:scaleX(1.1042);-webkit-text-stroke:0.75px #2b2b2b;">Ford Sec 48</span>
<span class="t" id="t_sb" style="left:143.2px;top:463.8px;font-size:24.42px;font-weight:400;color:#3a10be;transform:scaleX(1.0555);-webkit-text-stroke:0.35px #3a10be;">Inventory AI</span>
<span class="t" id="t_h1" style="left:468.5px;top:198.6px;font-size:40.41px;font-weight:700;color:#303238;transform:scaleX(1.0033);">Inventory AI</span>
<span class="t" id="t_c1" style="left:534.0px;top:325.8px;font-size:27.91px;font-weight:400;color:#2e3036;transform:scaleX(1.0414);-webkit-text-stroke:0.95px #2e3036;">Top Metrics</span>
<span class="t" id="t_c2" style="left:1029.2px;top:314.3px;font-size:27.62px;font-weight:400;color:#2e3036;transform:scaleX(1.0388);-webkit-text-stroke:0.95px #2e3036;">Market trend analysis</span>
<span class="t" id="t_c3" style="left:1527.1px;top:314.9px;font-size:27.47px;font-weight:400;color:#2e3036;transform:scaleX(1.0474);-webkit-text-stroke:0.95px #2e3036;">Market viewed vehicles</span>
<span class="t" id="t_c4" style="left:2004.4px;top:308.3px;font-size:27.62px;font-weight:400;color:#2e3036;transform:scaleX(1.0413);-webkit-text-stroke:0.95px #2e3036;">Ageing</span>
<span class="t" id="t_xa1" style="left:523.0px;top:419.8px;font-size:23.11px;font-weight:400;color:#2a2a35;transform:scaleX(1.1015);-webkit-text-stroke:0.2px currentColor;">Total inventory</span>
<span class="t" id="t_xa2" style="left:522.4px;top:465.7px;font-size:60.62px;font-weight:700;color:#26242e;transform:scaleX(1.1578);">200</span>
<span class="t" id="t_xa3" style="left:522.1px;top:557.9px;font-size:19.77px;font-weight:400;color:#8c8a99;transform:scaleX(1.0823);-webkit-text-stroke:0.2px currentColor;">Converted</span>
<span class="t" id="t_xa4" style="left:523.0px;top:614.2px;font-size:19.77px;font-weight:400;color:#8c8a99;transform:scaleX(1.0714);-webkit-text-stroke:0.2px currentColor;">vs last month</span>
<span class="t" id="t_xb1" style="left:1019.3px;top:419.8px;font-size:23.11px;font-weight:400;color:#2a2a35;transform:scaleX(1.0999);-webkit-text-stroke:0.2px currentColor;">Total inventory value</span>
<span class="t" id="t_xb2" style="left:1020.7px;top:465.5px;font-size:60.62px;font-weight:700;color:#26242e;transform:scaleX(1.1436);">450</span>
<span class="t" id="t_xb3" style="left:1018.4px;top:557.9px;font-size:19.77px;font-weight:400;color:#8c8a99;transform:scaleX(1.0823);-webkit-text-stroke:0.2px currentColor;">Converted</span>
<span class="t" id="t_xb4" style="left:1019.3px;top:614.2px;font-size:19.77px;font-weight:400;color:#8c8a99;transform:scaleX(1.0714);-webkit-text-stroke:0.2px currentColor;">vs last month</span>
<span class="t" id="t_xc1" style="left:523.0px;top:725.6px;font-size:22.97px;font-weight:400;color:#2a2a35;transform:scaleX(1.0967);-webkit-text-stroke:0.2px currentColor;">Ageing vehicles (&gt;60 days)</span>
<span class="t" id="t_xc2" style="left:522.9px;top:768.2px;font-size:60.34px;font-weight:700;color:#26242e;transform:scaleX(1.0280);">$124.5K</span>
<span class="t" id="t_xc3" style="left:521.8px;top:860.6px;font-size:20.20px;font-weight:400;color:#8c8a99;transform:scaleX(1.0304);-webkit-text-stroke:0.2px currentColor;">Sales Achieved</span>
<span class="t" id="t_xc4" style="left:523.0px;top:917.1px;font-size:19.77px;font-weight:400;color:#8c8a99;transform:scaleX(1.0714);-webkit-text-stroke:0.2px currentColor;">vs last month</span>
<span class="t" id="t_xd1" style="left:1018.2px;top:725.7px;font-size:22.97px;font-weight:400;color:#2a2a35;transform:scaleX(1.1027);-webkit-text-stroke:0.2px currentColor;">Inventory turnover in days</span>
<span class="t" id="t_xd2" style="left:1020.1px;top:768.0px;font-size:60.34px;font-weight:700;color:#26242e;transform:scaleX(1.0262);">$124.5K</span>
<span class="t" id="t_xd3" style="left:1018.1px;top:860.6px;font-size:20.20px;font-weight:400;color:#8c8a99;transform:scaleX(1.0304);-webkit-text-stroke:0.2px currentColor;">Sales Achieved</span>
<span class="t" id="t_xd4" style="left:1019.3px;top:917.1px;font-size:19.77px;font-weight:400;color:#8c8a99;transform:scaleX(1.0714);-webkit-text-stroke:0.2px currentColor;">vs last month</span>
<span class="t" id="t_bl1" style="left:818.8px;top:554.8px;font-size:23.75px;font-weight:400;color:#fff;transform:scaleX(1.1272);z-index:3;-webkit-text-stroke:0.3px #fff;">380</span>
<span class="t" id="t_bl2" style="left:812.7px;top:611.0px;font-size:24.03px;font-weight:400;color:#fff;transform:scaleX(1.0612);z-index:3;-webkit-text-stroke:0.3px #fff;">-122</span>
<span class="t" id="t_bl3" style="left:813.8px;top:858.5px;font-size:23.61px;font-weight:400;color:#fff;transform:scaleX(1.0225);z-index:3;-webkit-text-stroke:0.3px #fff;">85%</span>
<span class="t" id="t_bl4" style="left:787.3px;top:914.6px;font-size:24.03px;font-weight:400;color:#fff;transform:scaleX(1.0651);z-index:3;-webkit-text-stroke:0.3px #fff;">+$32K</span>
<span class="t" id="t_br1" style="left:1315.4px;top:554.8px;font-size:23.75px;font-weight:400;color:#fff;transform:scaleX(1.1272);z-index:3;-webkit-text-stroke:0.3px #fff;">380</span>
<span class="t" id="t_br2" style="left:1309.3px;top:611.0px;font-size:24.03px;font-weight:400;color:#fff;transform:scaleX(1.0612);z-index:3;-webkit-text-stroke:0.3px #fff;">-122</span>
<span class="t" id="t_br3" style="left:1310.4px;top:858.5px;font-size:23.61px;font-weight:400;color:#fff;transform:scaleX(1.0225);z-index:3;-webkit-text-stroke:0.3px #fff;">85%</span>
<span class="t" id="t_br4" style="left:1283.9px;top:914.6px;font-size:24.03px;font-weight:400;color:#fff;transform:scaleX(1.0651);z-index:3;-webkit-text-stroke:0.3px #fff;">+$32K</span>
<span class="t" id="t_v1" style="left:1496.2px;top:565.9px;font-size:18.75px;font-weight:400;color:#2b2b2b;transform:scaleX(1.1212);-webkit-text-stroke:0.8px #2b2b2b;">2020 Hyundai i20 Active</span>
<span class="t" id="t_v2" style="left:1496.5px;top:608.0px;font-size:14.10px;font-weight:400;color:#666;transform:scaleX(1.0805);">VIN12345678999999</span>
<span class="t" id="t_tt0" style="left:2167.1px;top:407.3px;font-size:19.62px;font-weight:400;color:#fff;transform:scaleX(1.0341);z-index:6;-webkit-text-stroke:0.3px #fff;">2016 Maxda CX-5</span>
<span class="t" id="t_tt1" style="left:2167.2px;top:447.1px;font-size:19.62px;font-weight:400;color:#fff;transform:scaleX(1.0131);z-index:6;-webkit-text-stroke:0.3px #fff;">2017 Honda CR-V</span>
<span class="t" id="t_tt2" style="left:2167.1px;top:486.9px;font-size:19.62px;font-weight:400;color:#fff;transform:scaleX(1.0420);z-index:6;-webkit-text-stroke:0.3px #fff;">2018 Toyota RAV4</span>
<span class="t" id="t_tt3" style="left:2167.1px;top:526.7px;font-size:19.62px;font-weight:400;color:#fff;transform:scaleX(1.0378);z-index:6;-webkit-text-stroke:0.3px #fff;">2019 Subaru Forester</span>
<span class="t" id="t_42" style="left:2109.8px;top:485.8px;font-size:14.88px;font-weight:700;color:#0c0c0c;transform:scaleX(1.1);">42</span>
<span class="t" id="t_m1" style="left:1482.6px;top:828.5px;font-size:27.62px;font-weight:400;color:#2e3036;transform:scaleX(1.0512);-webkit-text-stroke:0.95px #2e3036;">Merchandising status</span>
<span class="t" id="t_m2" style="left:1483.3px;top:888.7px;font-size:24.16px;font-weight:400;color:#2b2b2b;transform:scaleX(1.0975);-webkit-text-stroke:0.45px #2b2b2b;">2,420</span>
<span class="t" id="t_m3" style="left:1483.4px;top:950.1px;font-size:17.44px;font-weight:400;color:#3b10a8;transform:scaleX(1.0399);-webkit-text-stroke:0.3px #3b10a8;">Complete merchandising</span>
<span class="t" id="t_p1" style="left:1964.5px;top:828.5px;font-size:27.62px;font-weight:400;color:#2e3036;transform:scaleX(1.0374);-webkit-text-stroke:0.95px #2e3036;">Publishing Status</span>
<span class="t" id="t_p2" style="left:1965.5px;top:888.7px;font-size:24.16px;font-weight:400;color:#2b2b2b;transform:scaleX(1.0975);-webkit-text-stroke:0.45px #2b2b2b;">2,420</span>
<span class="t" id="t_p2b" style="left:2038.1px;top:893.4px;font-size:18.72px;font-weight:400;color:#606060;transform:scaleX(1.0931);-webkit-text-stroke:0.3px #606060;">/ 123466</span>
<span class="t" id="t_p3" style="left:1965.6px;top:950.1px;font-size:17.44px;font-weight:400;color:#3b10a8;transform:scaleX(1.0399);-webkit-text-stroke:0.3px #3b10a8;">Complete merchandising</span>
<span class="t" id="t_v1b" style="left:1820.2px;top:565.9px;font-size:18.75px;font-weight:400;color:#2b2b2b;transform:scaleX(1.1212);-webkit-text-stroke:0.8px #2b2b2b;width:86.6px;overflow:hidden;">2020 Hyundai i20 Active</span>
<span class="t" id="t_v2b" style="left:1820.5px;top:608.0px;font-size:14.10px;font-weight:400;color:#666;transform:scaleX(1.0805);width:90px;overflow:hidden;">VIN12345678999999</span>
</div>
</body>
</html>
